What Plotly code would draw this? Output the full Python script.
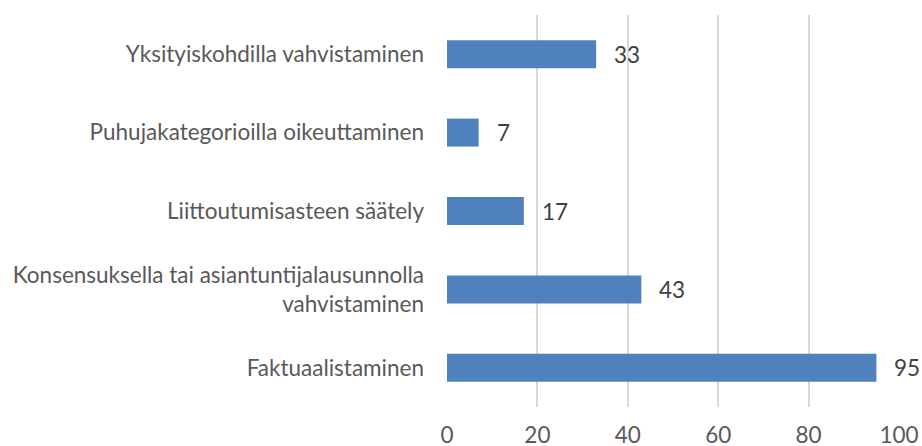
import plotly.graph_objects as go

categories = [
    "Faktuaalistaminen",
    "Konsensuksella tai asiantuntijalausunnolla<br>vahvistaminen",
    "Liittoutumisasteen säätely",
    "Puhujakategorioilla oikeuttaminen",
    "Yksityiskohdilla vahvistaminen",
]
values = [95, 43, 17, 7, 33]
x_ticks = [0, 20, 40, 60, 80, 100]

font_family = "Lato, Carlito, Calibri, sans-serif"
text_color = "#595959"
fs = 22.5

fig = go.Figure(
    go.Bar(
        x=values,
        y=categories,
        orientation="h",
        marker=dict(color="#4F81BD", line=dict(width=0)),
        hoverinfo="x+y",
    )
)

for v, c in zip(values, categories):
    fig.add_annotation(
        x=v, y=c, text=str(v), xanchor="left", yanchor="middle",
        xshift=16, showarrow=False,
        font=dict(family=font_family, size=fs, color="#404040"),
    )

fig.update_layout(
    width=922,
    height=446,
    margin=dict(l=447, r=23, t=15, b=39, autoexpand=False),
    paper_bgcolor="white",
    plot_bgcolor="white",
    bargap=0.643,
    showlegend=False,
    font=dict(family=font_family, size=fs, color=text_color),
)
fig.update_xaxes(
    range=[0, 100],
    tickvals=x_ticks,
    showgrid=True,
    gridcolor="#D9D9D9",
    gridwidth=1.5,
    zeroline=False,
    showline=False,
    automargin=False,
    ticklabelstandoff=12,
    tickfont=dict(size=fs, color=text_color),
    fixedrange=True,
)
fig.update_yaxes(
    categoryorder="array",
    categoryarray=categories,
    showgrid=False,
    showline=False,
    automargin=False,
    ticklabelstandoff=22,
    tickfont=dict(size=fs, color=text_color),
    fixedrange=True,
)

fig.write_html(
    "out.html",
    config={"displayModeBar": False},
    post_script="document.body.style.margin='0';document.body.style.overflow='hidden';",
)
